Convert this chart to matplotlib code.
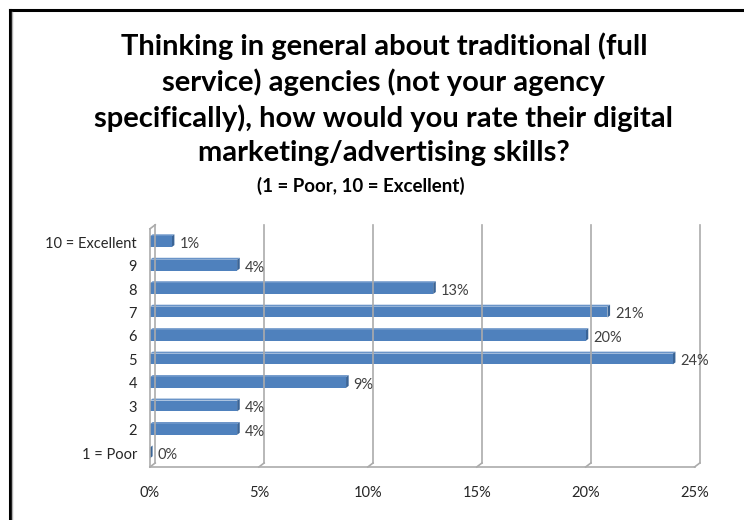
import numpy as np
import matplotlib.pyplot as plt
from matplotlib.patches import Polygon
from matplotlib.lines import Line2D

plt.rcParams['font.family'] = ['Lato', 'DejaVu Sans']

categories = ['1 = Poor', '2', '3', '4', '5', '6', '7', '8', '9', '10 = Excellent']
shares = [0, 4, 4, 9, 24, 20, 21, 13, 4, 1]
x_ticks = [0, 5, 10, 15, 20, 25]

title = ('Thinking in general about traditional (full\n'
         'service) agencies (not your agency\n'
         'specifically), how would you rate their digital\n'
         'marketing/advertising skills?')
subtitle = '(1 = Poor, 10 = Excellent)'

FRONT = '#4F81BD'
SIDE = '#3A6496'
TOP = '#6A94C8'
GRID = '#ABABAB'
DX, DY = 0.24, 0.17      # depth of the 3-D box in data units
BAR_H = 0.46

fig = plt.figure(figsize=(7.44, 5.20), dpi=100)
ax = fig.add_axes([0.2016, 0.102, 0.732, 0.458])
ax.set_xlim(0, 25)
ax.set_ylim(-0.6, 9.55)
ax.axis('off')

y_pos = np.arange(len(categories))
y_floor = -0.6
y_top = 9.55

# walls: back gridlines, floor diagonals, front floor edge, left wall
for t in x_ticks:
    ax.add_line(Line2D([t + DX, t + DX], [y_floor + DY, y_top + DY], color=GRID, lw=1.2))
    ax.add_line(Line2D([t, t + DX], [y_floor, y_floor + DY], color=GRID, lw=1.2))
ax.add_line(Line2D([0, 25], [y_floor, y_floor], color=GRID, lw=1.2))
ax.add_line(Line2D([0, 0], [y_floor, y_top], color=GRID, lw=1.2))
ax.add_line(Line2D([0, DX], [y_top, y_top + DY], color=GRID, lw=1.2))
for l in ax.lines:
    l.set_clip_on(False)

# 3-D bars: side cap, top face, front face
for y, v in zip(y_pos, shares):
    y0, y1 = y - BAR_H / 2, y + BAR_H / 2
    d = DX * 0.5
    e = DY * 0.5
    top = Polygon([[0, y1], [v, y1], [v + d, y1 + e], [d, y1 + e]],
                  closed=True, fc=TOP, ec='none', clip_on=False)
    side = Polygon([[v, y0], [v + d, y0 + e], [v + d, y1 + e], [v, y1]],
                   closed=True, fc=SIDE, ec='none', clip_on=False)
    ax.add_patch(top)
    ax.add_patch(side)
    ax.barh(y, v, height=BAR_H, color=FRONT, edgecolor='none', clip_on=False)
    ax.text(v + 0.35, y - 0.1, f'{v}%', va='center', ha='left',
            fontsize=10.5, color='#404040')

for y, c in zip(y_pos, categories):
    ax.text(-0.6, y - 0.08, c, ha='right', va='center', fontsize=10.5, color='#262626')

for t in x_ticks:
    ax.text(t, y_floor - 1.12, f'{t}%', ha='center', va='center', fontsize=10.5, color='#262626')

fig.text(0.516, 0.938, title, ha='center', va='top', fontsize=21, fontweight='bold',
         linespacing=1.37)
fig.text(0.485, 0.643, subtitle, ha='center', va='center', fontsize=13.5, fontweight='bold')

# outer frame
fig.add_artist(Line2D([9.5 / 744, 9.5 / 744], [0, 1 - 9.5 / 520], color='black', lw=2.2,
                      transform=fig.transFigure))
fig.add_artist(Line2D([9.5 / 744, 1], [1 - 9.5 / 520, 1 - 9.5 / 520], color='black', lw=2.2,
                      transform=fig.transFigure))
fig.add_artist(Line2D([11.5 / 744, 11.5 / 744], [0, 1 - 11.5 / 520], color='#B0B0B0', lw=1,
                      transform=fig.transFigure))

fig.savefig('out.png', dpi=100)
